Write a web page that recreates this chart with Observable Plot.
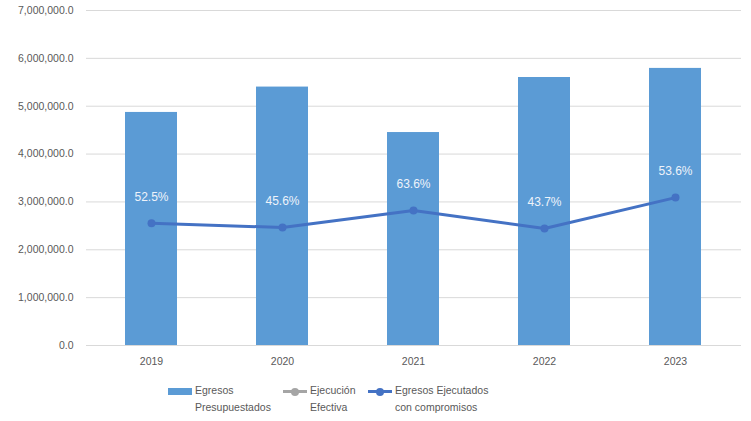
<!DOCTYPE html>
<html>
<head>
<meta charset="utf-8">
<script src="https://cdn.jsdelivr.net/npm/d3@7"></script>
<script src="https://cdn.jsdelivr.net/npm/@observablehq/plot@0.6"></script>
<style>
  body { margin: 0; background: #fff; font-family: "Liberation Sans", Arial, sans-serif; }
  #wrap { position: relative; width: 751px; height: 421px; }
  .legend { position: absolute; top: 382px; left: 0; width: 751px; height: 40px; font-size: 10.5px; color: #595959; }
  .item { position: absolute; top: 0; display: flex; align-items: flex-start; }
  .item .txt { line-height: 17px; margin-left: 3px; }
  .sw { width: 24px; height: 17px; position: relative; }
</style>
</head>
<body>
<div id="wrap"></div>
<script>
const years = ["2019", "2020", "2021", "2022", "2023"];
const egresosPresupuestados = [4870000, 5400000, 4450000, 5600000, 5790000];
const egresosEjecutados = [2555000, 2465000, 2820000, 2445000, 3090000];
const ejecucionLabels = ["52.5%", "45.6%", "63.6%", "43.7%", "53.6%"];
const yTicks = [0, 1000000, 2000000, 3000000, 4000000, 5000000, 6000000, 7000000];

const data = years.map((y, i) => ({
  year: y,
  budget: egresosPresupuestados[i],
  executed: egresosEjecutados[i],
  label: ejecucionLabels[i]
}));

const fmt = d3.format(",.1f");

const chart = Plot.plot({
  width: 751,
  height: 375,
  marginLeft: 86,
  marginRight: 10,
  marginTop: 10,
  marginBottom: 30,
  style: { fontFamily: "Liberation Sans, Arial, sans-serif", fontSize: "10.5px", color: "#595959", background: "#fff" },
  x: { type: "band", domain: years, paddingInner: 0.6, paddingOuter: 0.3, align: 0.5, label: null, tickSize: 0, tickPadding: 12 },
  y: { domain: [0, 7000000], ticks: yTicks, tickFormat: fmt, label: null, tickSize: 0, tickPadding: 13 },
  marks: [
    Plot.ruleY(yTicks, { stroke: "#d9d9d9", strokeWidth: 1 }),
    Plot.barY(data, { x: "year", y: "budget", fill: "#5b9bd5" }),
    Plot.line(data, { x: "year", y: "executed", stroke: "#4472c4", strokeWidth: 3 }),
    Plot.dot(data, { x: "year", y: "executed", fill: "#4472c4", r: 4 }),
    Plot.text(data, { x: "year", y: "executed", text: "label", dy: -26, fill: "#eef3fa", fontSize: 12 })
  ]
});

const wrap = document.getElementById("wrap");
wrap.appendChild(chart);

const legend = document.createElement("div");
legend.className = "legend";
legend.innerHTML = `
  <div class="item" style="left:168px">
    <div class="sw"><div style="position:absolute;left:0;top:6px;width:24px;height:7px;background:#5b9bd5"></div></div>
    <div class="txt">Egresos<br>Presupuestados</div>
  </div>
  <div class="item" style="left:283px">
    <div class="sw"><div style="position:absolute;left:0;top:8px;width:24px;height:3px;background:#a5a5a5"></div><div style="position:absolute;left:8px;top:5.5px;width:8px;height:8px;border-radius:50%;background:#a5a5a5"></div></div>
    <div class="txt">Ejecución<br>Efectiva</div>
  </div>
  <div class="item" style="left:368px">
    <div class="sw"><div style="position:absolute;left:0;top:8px;width:24px;height:3px;background:#4472c4"></div><div style="position:absolute;left:8px;top:5.5px;width:8px;height:8px;border-radius:50%;background:#4472c4"></div></div>
    <div class="txt">Egresos Ejecutados<br>con compromisos</div>
  </div>`;
wrap.appendChild(legend);
</script>
</body>
</html>
